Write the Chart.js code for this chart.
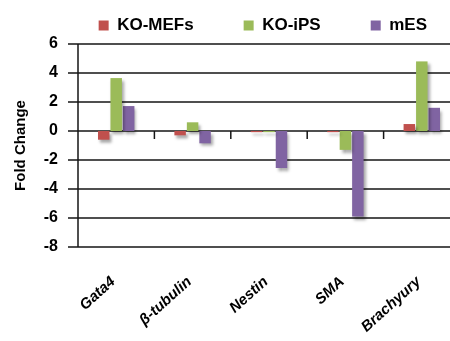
<!DOCTYPE html>
<html>
<head>
<meta charset="utf-8">
<script src="https://cdn.jsdelivr.net/npm/chart.js@4"></script>
<style>
  html, body { margin: 0; padding: 0; background: #fff; overflow: hidden; }
  #wrap { width: 477px; height: 341px; }
</style>
</head>
<body>
<div id="wrap"><canvas id="foldChart" width="477" height="341"></canvas></div>
<script>
const genes = ['Gata4', 'β-tubulin', 'Nestin', 'SMA', 'Brachyury'];
const koMefs = [-0.6, -0.3, -0.08, -0.08, 0.48];
const koIps = [3.65, 0.6, -0.08, -1.3, 4.8];
const mEs = [1.72, -0.85, -2.55, -5.9, 1.6];
const yMin = -8;
const yMax = 6;
const yStep = 2;

const canvas = document.getElementById('foldChart');
canvas.getContext('2d', { willReadFrequently: true });

// grid lines, axis line and tick marks from the chart's own scales,
// painted behind whatever is already on the canvas (bars stay on top)
const axisLines = {
    id: 'axisLines',
    afterDraw(chart) {
        const { ctx, chartArea: a, scales: { x, y } } = chart;
        const half = (x.getPixelForValue(1) - x.getPixelForValue(0)) / 2;
        const y0 = y.getPixelForValue(0);
        ctx.save();
        ctx.globalCompositeOperation = 'destination-over';
        ctx.strokeStyle = '#151515';
        ctx.lineWidth = 1.5;
        ctx.beginPath();
        y.ticks.forEach(t => {
            const py = y.getPixelForValue(t.value);
            ctx.moveTo(a.left - 10, py);
            ctx.lineTo(a.right, py);
        });
        ctx.moveTo(a.left, a.top);
        ctx.lineTo(a.left, a.bottom);
        for (let i = 0; i <= genes.length; i++) {
            const px = x.getPixelForValue(0) - half + i * 2 * half;
            ctx.moveTo(px, y0);
            ctx.lineTo(px, y0 + 8);
        }
        ctx.stroke();
        ctx.restore();
    }
};

// soft drop shadow under the bars, like the original office chart
const barShadow = {
    id: 'barShadow',
    beforeDatasetsDraw(chart) {
        const c = chart.ctx;
        c.save();
        c.shadowColor = 'rgba(0, 0, 0, 0.35)';
        c.shadowBlur = 3;
        c.shadowOffsetX = 2;
        c.shadowOffsetY = 3;
    },
    afterDatasetsDraw(chart) {
        chart.ctx.restore();
    }
};

new Chart(canvas, {
    type: 'bar',
    data: {
        labels: genes,
        datasets: [
            { label: 'KO-MEFs', data: koMefs, backgroundColor: '#c0504d' },
            { label: 'KO-iPS', data: koIps, backgroundColor: '#9bbb59' },
            { label: 'mES', data: mEs, backgroundColor: '#8064a2' }
        ]
    },
    options: {
        responsive: false,
        animation: false,
        categoryPercentage: 0.49,
        barPercentage: 0.92,
        layout: { padding: { top: -16, left: 0, right: 17, bottom: 0 } },
        plugins: {
            legend: {
                position: 'top',
                align: 'end',
                labels: {
                    boxWidth: 10,
                    boxHeight: 10,
                    padding: 33,
                    color: '#000',
                    font: { size: 17, weight: 'bold' },
                    // wider gap after the first two entries
                    generateLabels: chart => Chart.defaults.plugins.legend.labels.generateLabels(chart)
                        .map((item, i, all) => {
                            if (i < all.length - 1) item.text += '\u2003';
                            return item;
                        })
                }
            },
            tooltip: { enabled: false }
        },
        scales: {
            x: {
                grid: { display: false },
                border: { display: false },
                ticks: {
                    color: '#000',
                    minRotation: 42,
                    maxRotation: 42,
                    padding: 18,
                    labelOffset: -3,
                    font: { size: 15, weight: 'bold', style: 'italic' }
                },
                afterFit: s => { s.height = 94; }
            },
            y: {
                min: yMin,
                max: yMax,
                ticks: {
                    stepSize: yStep,
                    color: '#000',
                    padding: 10,
                    font: { size: 16, weight: 'bold' }
                },
                grid: { display: false, tickLength: 10 },
                border: { display: false },
                title: {
                    display: true,
                    text: 'Fold Change',
                    color: '#000',
                    padding: 12,
                    font: { size: 15, weight: 'bold' }
                },
                afterFit: s => { s.width = 78; }
            }
        }
    },
    plugins: [barShadow, axisLines]
});
</script>
</body>
</html>
